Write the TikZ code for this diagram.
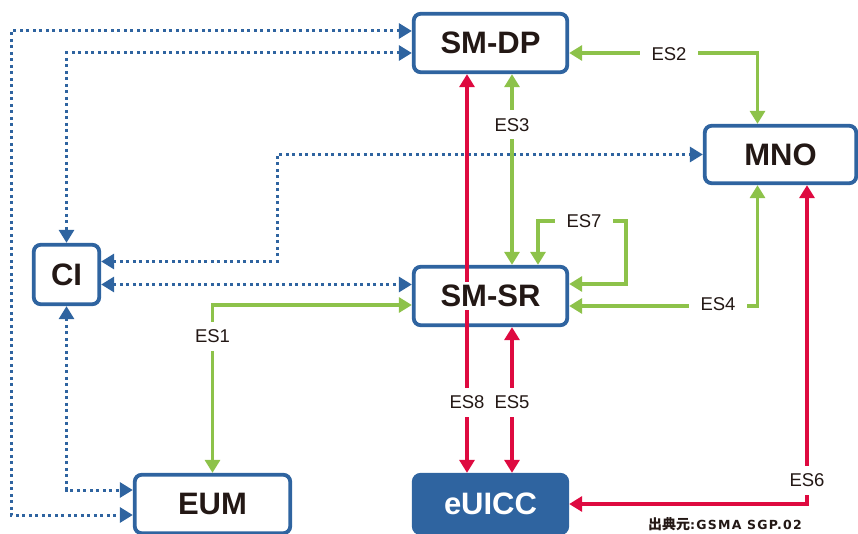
\documentclass[tikz,border=0pt]{standalone}
\usepackage{fontspec}
\setmainfont{Liberation Sans}
\newfontfamily\cjkfont{Noto Sans CJK JP}
\newfontfamily\srcfont[LetterSpace=10]{DejaVu Sans}
\usetikzlibrary{arrows.meta}
\definecolor{bl}{RGB}{47,100,160}
\definecolor{gr}{RGB}{141,194,74}
\definecolor{rd}{RGB}{222,10,64}
\definecolor{txt}{RGB}{35,24,21}
\tikzset{
  box/.style={draw=bl, line width=3.8pt, rounded corners=7pt, fill=white, inner sep=0pt,
    minimum width=153.5pt, minimum height=58.5pt, text=txt,
    font=\bfseries\fontsize{31}{31}\selectfont},
  boxtext/.style={text=txt, font=\bfseries\fontsize{31}{31}\selectfont, inner sep=3pt},
  tip/.tip={Triangle[length=13pt,width=15pt]},
  dotline/.style={draw=bl, line width=3pt, dash pattern=on 3pt off 3.5pt, tip-tip},
  grline/.style={draw=gr, line width=3.2pt, tip-tip},
  rdline/.style={draw=rd, line width=3.2pt, tip-tip},
  lab/.style={fill=white, text=txt, font=\fontsize{18.5}{18.5}\selectfont,
    text height=13pt, text depth=0pt, inner xsep=12pt, inner ysep=8pt},
}
\begin{document}
\begin{tikzpicture}[x=1pt,y=-1pt]
\useasboundingbox (0,0) rectangle (858,534);
% boxes
\node[box] (smdp) at (490.5,43) {SM-DP};
\node[box, minimum width=151.5pt, minimum height=57.5pt] (mno) at (780.5,154.5) {MNO};
\node[box] (smsr) at (490.5,296) {};
\node[box, minimum width=65.5pt, minimum height=59.5pt] (ci) at (66.5,274.5) {CI};
\node[box, minimum width=155.5pt] (eum) at (212.5,504) {EUM};
\node[box, fill=bl, text=white] (euicc) at (490.5,504) {eUICC};
% dotted blue connectors
\draw[dotline] ([yshift=12pt]smdp.west) -| (11,515) -- ([yshift=-11pt]eum.west);
\draw[dotline] ([yshift=-10pt]smdp.west) -| (ci.north);
\draw[dotline] (ci.south) |- ([yshift=14pt]eum.west);
\draw[dotline] ([yshift=13pt]ci.east) -- (277,261.5) |- (mno.west);
\draw[dotline] ([yshift=-10pt]ci.east) -- ([yshift=-10pt]ci.east -| smsr.west);
% green connectors
\draw[grline] ([yshift=-9pt]smsr.west) -| (eum.north);
\draw[grline] ([yshift=-10pt]smdp.east) -| ([xshift=-23pt]mno.north);
\draw[grline] ([xshift=21.5pt]smdp.south) -- ([xshift=21.5pt]smsr.north);
\draw[grline] ([yshift=12pt]smsr.east) -| (626,221) -| ([xshift=47.5pt]smsr.north);
\draw[grline] ([yshift=-10pt]smsr.east) -| ([xshift=-23pt]mno.south);
% red connectors
\draw[rdline] ([xshift=-23.5pt]smdp.south) -- ([xshift=-23.5pt]euicc.north);
\draw[rdline] ([xshift=21.5pt]smsr.south) -- ([xshift=21.5pt]euicc.north);
\draw[rdline] ([xshift=26.5pt]mno.south) |- (euicc.east);
% text of SM-SR over the red line
\node[boxtext, fill=white] (smsrt) at (smsr) {SM-SR};
% labels
\node[lab] (es1) at (212.5,336) {ES1};
\node[lab] (es2) at (669,54) {ES2};
\node[lab] (es3) at (512,125) {ES3};
\node[lab] (es7) at (584,221.5) {ES7};
\node[lab] (es4) at (718,304) {ES4};
\node[lab, inner xsep=3pt] (es8) at (467,402) {ES8};
\node[lab, inner xsep=3pt] (es5) at (512,402) {ES5};
\node[lab] (es6) at (807,480) {ES6};
% source note
\node[text=txt, inner sep=0pt, anchor=base west] (src) at (648,529.5)
  {{\cjkfont\bfseries\fontsize{14}{14}\selectfont 出典元}{\srcfont\bfseries\fontsize{12.5}{12.5}\selectfont :GSMA SGP.02}};
\end{tikzpicture}
\end{document}
